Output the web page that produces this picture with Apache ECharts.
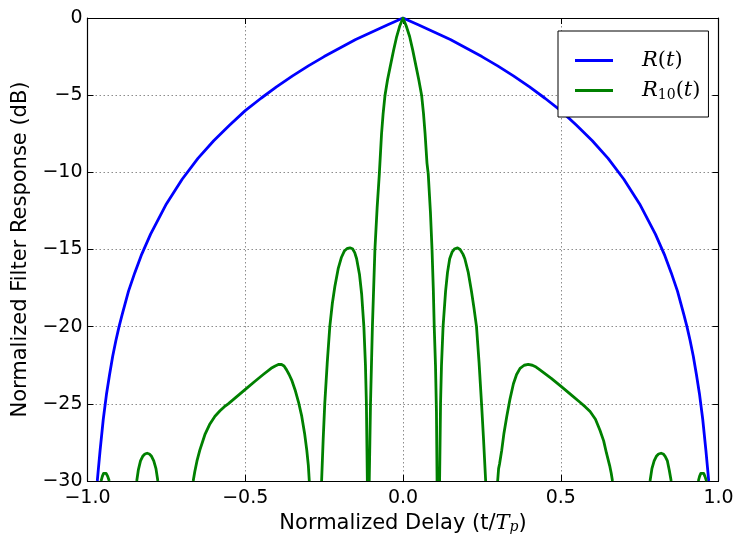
<!DOCTYPE html>
<html>
<head>
<meta charset="utf-8">
<script src="https://cdn.jsdelivr.net/npm/echarts@6/dist/echarts.min.js"></script>
<style>
  html, body { margin: 0; padding: 0; background: #fff; }
  #grafico { width: 736px; height: 534px; }
</style>
</head>
<body>
<div id="grafico"></div>
<script>
// R(t) e R10(t) (dB vs atraso normalizado)
const tR = [-0.969, -0.965, -0.96, -0.95, -0.94, -0.93, -0.92, -0.91, -0.9, -0.89, -0.87, -0.85, -0.83, -0.8, -0.75, -0.7, -0.65,
  -0.6, -0.55, -0.5, -0.45, -0.4, -0.35, -0.3, -0.25, -0.2, -0.15, -0.1, -0.05, 0,
  0.05, 0.1, 0.15, 0.2, 0.25, 0.3, 0.35, 0.4, 0.45, 0.5, 0.55, 0.6,
  0.65, 0.7, 0.75, 0.8, 0.83, 0.85, 0.87, 0.89, 0.9, 0.91, 0.92, 0.93, 0.94, 0.95, 0.96, 0.965, 0.969];
const dbR = [-30, -29.1, -28, -26, -24.4, -23.1, -21.9, -20.9, -20, -19.2, -17.7, -16.5, -15.4, -14, -12.05, -10.45, -9.1,
  -7.95, -6.95, -6, -5.2, -4.45, -3.75, -3.1, -2.5, -1.95, -1.4, -0.92, -0.45, 0,
  -0.45, -0.92, -1.4, -1.95, -2.5, -3.1, -3.75, -4.45, -5.2, -6, -6.95, -7.95,
  -9.1, -10.45, -12.05, -14, -15.4, -16.5, -17.7, -19.2, -20, -20.9, -21.9, -23.1, -24.4, -26, -28, -29.1, -30];

// null separa os lóbulos (abaixo de -30 dB ficam fora do gráfico)
const tR10 = [
  -0.957, -0.953, -0.949, -0.945, -0.941, -0.936, -0.931, null,
  -0.844, -0.839, -0.832, -0.825, -0.818, -0.811, -0.804, -0.797, -0.79, -0.783, -0.777, null,
  -0.665, -0.66, -0.653, -0.644, -0.628, -0.612, -0.596, -0.58, -0.567, -0.554, -0.525, -0.496, -0.47, -0.443, -0.418, -0.405, -0.395,
  -0.385, -0.377, -0.369, -0.361, -0.352, -0.342, -0.331, -0.321, -0.312, -0.305, -0.3, -0.297, null,
  -0.258, -0.253, -0.248, -0.24, -0.232, -0.224, -0.216, -0.205, -0.195, -0.186, -0.176, -0.168, -0.16, -0.153, -0.147, -0.138, -0.131,
  -0.124, -0.119, -0.116, -0.113, null,
  -0.107, -0.105, -0.103, -0.1, -0.097, -0.093, -0.089, -0.082, -0.075, -0.068, -0.063, -0.057, -0.049, -0.041, -0.03, -0.02, -0.01, 0,
  0.01, 0.021, 0.031, 0.042, 0.05, 0.059, 0.065, 0.07, 0.076, 0.08, 0.087, 0.092, 0.096, 0.099, 0.103, 0.106, 0.108, null,
  0.116, 0.119, 0.122, 0.127, 0.135, 0.141, 0.148, 0.156, 0.164, 0.173, 0.181, 0.19, 0.196, 0.207, 0.217, 0.225, 0.233, 0.241, 0.249, 0.255, 0.262, null,
  0.3, 0.303, 0.306, 0.313, 0.32, 0.329, 0.339, 0.35, 0.36, 0.371, 0.384, 0.397, 0.41, 0.422, 0.434, 0.47, 0.503, 0.535, 0.561,
  0.578, 0.593, 0.61, 0.624, 0.636, 0.645, 0.655, 0.66, 0.664, null,
  0.783, 0.789, 0.796, 0.803, 0.81, 0.818, 0.825, 0.831, 0.838, 0.844, 0.85, null,
  0.936, 0.94, 0.944, 0.949, 0.953, 0.957, 0.962];
const dbR10 = [
  -30, -29.7, -29.5, -29.45, -29.5, -29.7, -30, null,
  -30, -29.3, -28.7, -28.4, -28.25, -28.2, -28.25, -28.4, -28.7, -29.2, -30, null,
  -30, -29.4, -28.7, -28, -27, -26.3, -25.8, -25.45, -25.2, -25, -24.5, -24, -23.55, -23.1, -22.7, -22.55, -22.45,
  -22.45, -22.55, -22.8, -23.1, -23.5, -24.1, -24.9, -25.8, -26.9, -28, -29, -30, null,
  -30, -27.3, -25, -22.3, -20, -18.5, -17.4, -16.2, -15.5, -15.1, -14.92, -14.9, -14.95, -15.2, -15.6, -16.6, -17.9,
  -20, -22.5, -25, -30, null,
  -30, -27.5, -25, -22.5, -20, -17.5, -15, -12.3, -10.1, -7.5, -6.2, -5, -4, -3.2, -2.1, -1.2, -0.5, 0,
  -0.5, -1.2, -2.1, -3.2, -4, -5, -6.2, -7.5, -9.4, -10.1, -12.6, -15, -17.5, -20, -22.5, -25.5, -30, null,
  -30, -25, -22.5, -20, -17.7, -16.5, -15.6, -15.15, -14.95, -14.9, -15, -15.3, -15.6, -16.5, -17.7, -18.8, -20, -22.3, -25, -27.2, -30, null,
  -30, -29.2, -28.9, -28, -26.9, -25.8, -24.7, -23.7, -23.1, -22.7, -22.5, -22.45, -22.5, -22.62, -22.8, -23.35, -23.9, -24.45, -24.9,
  -25.2, -25.5, -26, -26.7, -27.4, -28.2, -29, -29.5, -30, null,
  -30, -29.2, -28.7, -28.4, -28.25, -28.2, -28.25, -28.4, -28.7, -29.3, -30, null,
  -30, -29.7, -29.5, -29.45, -29.5, -29.7, -30];

const pares = (xs, ys) => xs.map((x, i) => (x === null ? [null, null] : [x, ys[i]]));
const menos = (v, casas) => (v < 0 ? "\u2212" : "") + Math.abs(v).toFixed(casas);

const SERIF = { fontFamily: "DejaVu Serif", fontStyle: "italic", color: "#000" };
const grade = { show: true, lineStyle: { color: "#8c8c8c", type: [1.5, 2.5], width: 1 } };
const linhaEixo = { show: true, onZero: false, lineStyle: { color: "#000", width: 1.2 } };
const tick = { show: true, inside: true, length: 6, lineStyle: { color: "#000" } };

const g = echarts.init(document.getElementById("grafico"));
g.setOption({
  animation: false,
  textStyle: { fontFamily: "DejaVu Sans" },
  grid: { left: 87.5, right: 17.5, top: 18, bottom: 53, outerBoundsMode: "none", containLabel: false },
  legend: {
    left: 558, top: 31, orient: "vertical",
    backgroundColor: "#fff", borderColor: "#000", borderWidth: 1, borderRadius: 0,
    padding: [19, 8, 15, 17], itemGap: 9, itemWidth: 38, itemHeight: 3, icon: "rect",
    formatter: (n) => (n === "R(t)" ? "{i|R}{n|(}{i|t}{n|)}" : "{i|R}{s|10}{n|(}{i|t}{n|)}"),
    textStyle: {
      padding: [0, 0, 0, 24],
      rich: {
        i: { ...SERIF, fontSize: 21 },
        n: { fontFamily: "DejaVu Serif", fontSize: 21, color: "#000" },
        s: { fontFamily: "DejaVu Serif", fontSize: 14, color: "#000", padding: [9, 0, 0, 0] },
      },
    },
  },
  xAxis: [
    {
      type: "value", min: -1, max: 1, interval: 0.5,
      name: "Normalized Delay (t/{i|T}{s|p})", nameLocation: "middle", nameGap: 22,
      nameTextStyle: {
        fontSize: 21, color: "#000",
        rich: { i: { ...SERIF, fontSize: 21 }, s: { ...SERIF, fontSize: 14, padding: [8, 0, 0, 0] } },
      },
      axisLine: linhaEixo, axisTick: tick, splitLine: grade,
      axisLabel: { color: "#000", fontSize: 19, margin: 8, showMinLabel: true, showMaxLabel: true, formatter: (v) => menos(v, 1) },
    },
    {
      type: "value", min: -1, max: 1, interval: 0.5, position: "top",
      axisLine: linhaEixo, axisTick: tick, splitLine: { show: false }, axisLabel: { show: false },
    },
  ],
  yAxis: [
    {
      type: "value", min: -30, max: 0, interval: 5,
      name: "Normalized Filter Response (dB)", nameLocation: "middle", nameGap: 42,
      nameTextStyle: { fontSize: 21, color: "#000" },
      axisLine: linhaEixo, axisTick: tick, splitLine: grade,
      axisLabel: { color: "#000", fontSize: 19, margin: 5, showMinLabel: true, showMaxLabel: true, formatter: (v) => menos(v, 0) },
    },
    {
      type: "value", min: -30, max: 0, interval: 5, position: "right",
      axisLine: linhaEixo, axisTick: tick, splitLine: { show: false }, axisLabel: { show: false },
    },
  ],
  series: [
    {
      name: "R(t)", type: "line", data: pares(tR, dbR), symbol: "none", clip: true,
      lineStyle: { color: "#0000ff", width: 2.8 }, itemStyle: { color: "#0000ff" },
    },
    {
      name: "R10(t)", type: "line", data: pares(tR10, dbR10), symbol: "none", clip: true,
      connectNulls: false,
      lineStyle: { color: "#008000", width: 2.8, join: "round" }, itemStyle: { color: "#008000" },
    },
  ],
});
</script>
</body>
</html>
